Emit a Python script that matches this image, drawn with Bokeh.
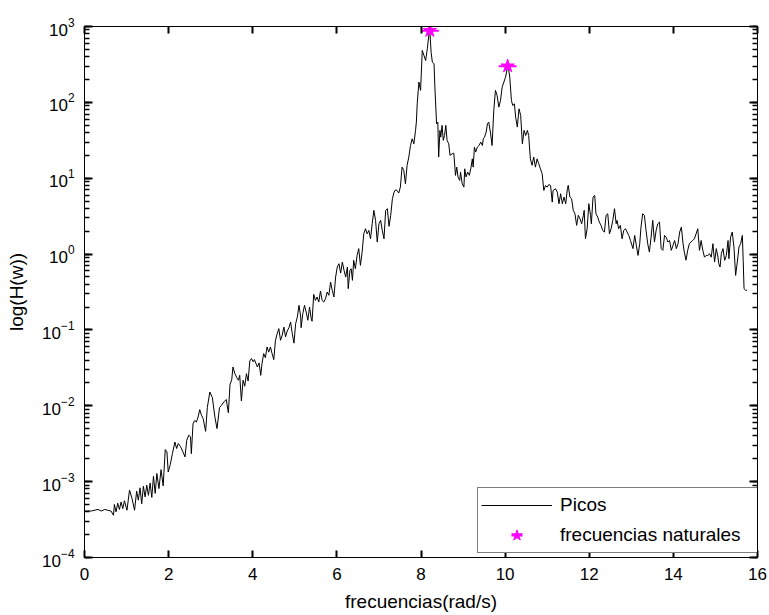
from bokeh.plotting import figure
from bokeh.models import (Range1d, FixedTicker, LogTicker, LinearAxis, LogAxis,
                          Legend, LegendItem, CustomJSTickFormatter)
from bokeh.embed import file_html
from bokeh.resources import INLINE

# ---- data ----
freq = [
    0.00, 0.16, 0.32, 0.40, 0.48, 0.55, 0.63, 0.69, 0.71, 0.75, 0.79, 0.83, 0.87, 0.91, 0.95,
    1.01, 1.07, 1.13, 1.19, 1.24, 1.28, 1.32, 1.36, 1.40, 1.44, 1.48, 1.52, 1.56, 1.60, 1.64,
    1.68, 1.72, 1.77, 1.82, 1.87, 1.92, 1.96, 1.99, 2.04, 2.09, 2.15, 2.19, 2.23, 2.28, 2.34,
    2.39, 2.43, 2.48, 2.52, 2.54, 2.58, 2.62, 2.66, 2.70, 2.74, 2.78, 2.82, 2.88, 2.92, 2.98,
    3.04, 3.10, 3.15, 3.21, 3.26, 3.31, 3.37, 3.42, 3.46, 3.50, 3.53, 3.57, 3.62, 3.66, 3.69,
    3.73, 3.77, 3.81, 3.85, 3.89, 3.93, 3.97, 4.01, 4.04,
    4.11, 4.15, 4.19, 4.22, 4.26, 4.30, 4.34, 4.38, 4.42, 4.46, 4.50, 4.54, 4.58, 4.62, 4.66,
    4.70, 4.74, 4.78, 4.82, 4.86, 4.90, 4.94, 4.98, 5.02, 5.06, 5.10, 5.14, 5.15, 5.19, 5.23,
    5.27, 5.31, 5.35, 5.39, 5.41, 5.45, 5.49, 5.53, 5.57, 5.61, 5.65, 5.69, 5.73, 5.77, 5.81,
    5.85, 5.89, 5.93, 5.97, 6.01, 6.05, 6.09, 6.13, 6.17, 6.21, 6.25, 6.27, 6.31, 6.34, 6.37,
    6.40, 6.44, 6.48, 6.52, 6.56, 6.60, 6.64, 6.68, 6.72, 6.76, 6.80, 6.84, 6.88, 6.92, 6.96,
    7.00, 7.04, 7.08, 7.12, 7.16, 7.20, 7.24, 7.28, 7.32, 7.36, 7.40, 7.43, 7.47, 7.51, 7.55,
    7.59, 7.63, 7.67, 7.71, 7.75, 7.79, 7.83, 7.87, 7.89,
    7.91, 7.95, 7.99, 8.03, 8.07, 8.11, 8.15, 8.19, 8.21, 8.24, 8.27, 8.31, 8.33, 8.37, 8.40,
    8.42, 8.45, 8.47, 8.50, 8.53, 8.56, 8.59, 8.62, 8.66, 8.69, 8.74, 8.78, 8.82, 8.85, 8.88,
    8.92, 8.94, 8.98, 9.02, 9.04, 9.07, 9.11, 9.15, 9.19, 9.22, 9.24, 9.27, 9.30, 9.34, 9.38,
    9.42, 9.46, 9.48, 9.51, 9.55, 9.58, 9.61, 9.65, 9.69, 9.73, 9.77, 9.81, 9.85, 9.89, 9.93,
    9.97, 10.01, 10.05, 10.07, 10.11, 10.15, 10.18, 10.22, 10.25, 10.29, 10.33, 10.37, 10.41,
    10.45, 10.49, 10.53, 10.56, 10.60, 10.64, 10.68, 10.72, 10.76, 10.80, 10.84, 10.88, 10.92,
    10.96, 11.00, 11.04, 11.08, 11.12, 11.14, 11.20,
    11.24, 11.28, 11.32, 11.36, 11.40, 11.44, 11.48, 11.50, 11.54, 11.58, 11.62, 11.66, 11.70,
    11.74, 11.78, 11.82, 11.86, 11.88, 11.91, 11.95, 11.99, 12.03, 12.05, 12.09, 12.13, 12.16,
    12.20, 12.24, 12.28, 12.32, 12.36, 12.40, 12.44, 12.48, 12.52, 12.56, 12.60, 12.64, 12.66,
    12.70, 12.74, 12.78, 12.82, 12.86, 12.90, 12.94, 12.98, 13.04, 13.08, 13.12, 13.16, 13.20,
    13.23, 13.27, 13.31, 13.35, 13.39, 13.43, 13.47, 13.51, 13.55, 13.59, 13.63, 13.67, 13.71,
    13.75, 13.79, 13.83, 13.87, 13.91, 13.95, 13.99, 14.03, 14.07, 14.11, 14.15, 14.19, 14.23,
    14.26, 14.30, 14.34, 14.38, 14.42, 14.46, 14.50, 14.54, 14.58, 14.62, 14.66, 14.70, 14.74,
    14.78, 14.82, 14.86, 14.90, 14.94, 14.98, 15.02, 15.06, 15.08, 15.11, 15.14, 15.18, 15.22,
    15.26, 15.30, 15.32, 15.36, 15.40, 15.44, 15.48, 15.52, 15.56, 15.60, 15.64, 15.66, 15.68,
    15.72, 15.75,
]

h_mag = [
    4.1e-4, 4.1e-4, 4.3e-4, 4.1e-4, 4.3e-4, 4.2e-4, 4.1e-4, 3.6e-4, 5.0e-4, 4.0e-4, 5.2e-4,
    4.3e-4, 5.4e-4, 4.4e-4, 5.6e-4,
    4.2e-4, 7.7e-4, 6.0e-4, 4.2e-4, 7.5e-4, 5.7e-4, 8.3e-4, 5.1e-4, 8.7e-4, 6.3e-4, 9.0e-4,
    6.6e-4, 9.6e-4, 6.2e-4, 1.18e-3,
    7.0e-4, 1.28e-3, 8.1e-4, 1.44e-3, 8.8e-4, 2.65e-3, 2.47e-3, 1.34e-3, 1.69e-3, 2.34e-3,
    3.33e-3, 2.73e-3, 3.18e-3, 2.92e-3, 2.47e-3,
    2.12e-3, 3.5e-3, 4.1e-3, 3.9e-3, 2.34e-3, 5.8e-3, 6.4e-3, 6.1e-3, 7.1e-3, 8.9e-3, 7.5e-3,
    6.8e-3, 4.6e-3, 9.5e-3, 1.52e-2,
    1.28e-2, 7.1e-3, 5.0e-3, 9.5e-3, 1.02e-2, 1.12e-2, 1.21e-2, 8.1e-3, 1.92e-2, 2.2e-2,
    3.25e-2, 2.7e-2, 2.35e-2, 2.17e-2, 2.52e-2,
    1.16e-2, 2.17e-2, 1.81e-2, 2.65e-2, 2.12e-2, 3.9e-2, 4.2e-2, 3.8e-2, 4.06e-2,
    3.25e-2, 3.67e-2, 2.52e-2, 3.6e-2, 4.87e-2, 4.3e-2, 5.96e-2, 5.1e-2, 5.96e-2, 4.87e-2,
    4.06e-2, 7.3e-2, 8.9e-2, 0.104, 7.3e-2,
    8.5e-2, 0.109, 8.1e-2, 9.7e-2, 0.107, 0.127, 8.9e-2, 6.7e-2, 0.121, 0.148, 0.211, 0.148,
    0.107, 0.164, 0.211,
    0.172, 0.134, 0.200, 0.141, 0.130, 0.294, 0.245, 0.272, 0.233, 0.326, 0.245, 0.233, 0.258,
    0.316, 0.286,
    0.428, 0.333, 0.272, 0.498, 0.675, 0.746, 0.562, 0.785, 0.610, 0.498, 0.675, 0.350, 0.610,
    0.641, 0.450,
    0.826, 0.641, 0.961, 1.18, 0.710, 1.06, 1.85, 2.16, 1.85, 2.05, 1.59, 2.51, 3.77, 2.78, 1.44,
    2.51, 2.78, 2.05, 1.59, 3.77, 3.96, 2.32, 3.24, 5.36, 6.56, 7.05, 6.90, 6.37, 7.64, 14.0,
    12.7, 8.45, 14.8, 19.0, 27.0, 33.1, 28.4, 42.7, 55.0,
    95.7, 185.0, 144.0, 483.0, 415.0, 356.0, 508.0, 800.0, 885.0, 459.0, 339.0, 322.0, 159.0,
    52.2, 55.0,
    19.0, 42.7, 34.8, 49.7, 31.5, 36.6, 49.7, 31.5, 28.4, 20.0, 21.0, 21.4, 10.9, 14.0, 10.4,
    9.35, 12.0, 8.45, 7.64, 13.3, 10.4, 12.0, 10.9, 14.0, 18.0, 14.0, 25.7, 22.1, 25.7, 27.0,
    29.9, 27.0, 33.1, 34.8, 40.6, 52.2, 55.0, 40.6, 27.0, 78.2, 144.0, 123.0, 86.5, 106.0, 159.0,
    185.0, 215.0, 277.0, 306.0, 215.0, 106.0, 91.0, 95.7, 63.8, 47.2, 82.2, 67.1, 28.4,
    42.7, 36.6, 42.7, 36.6, 18.0, 14.8, 19.0, 14.0, 18.0, 15.5, 13.3, 11.5, 6.9,
    8.0, 7.64, 8.28, 8.0, 4.84, 6.9, 7.26,
    6.56, 4.61, 6.24, 4.61, 5.64, 4.61, 7.26, 8.04, 5.64, 5.36, 3.77, 3.40, 2.39,
    3.24, 2.92, 2.51, 3.24, 3.77, 1.59, 2.16, 4.61, 3.24, 2.51, 5.64, 5.93, 3.40,
    3.08, 2.64, 2.39, 2.05, 1.95, 3.24, 3.40, 1.85, 2.16, 2.78, 3.96, 2.51, 2.78,
    2.16, 2.39, 1.59, 2.05, 2.16, 1.95, 1.76, 1.51, 1.18, 1.76, 1.30, 0.96, 1.37,
    2.27, 3.40, 3.24, 2.05, 1.37, 1.06, 1.67, 2.78, 1.44, 2.05, 2.51, 2.64, 1.18,
    1.12, 1.76, 1.67, 1.44, 1.51, 1.12, 1.30, 1.51, 1.18, 1.37, 1.95, 2.27, 1.37,
    1.06, 0.83, 1.12, 1.37, 1.44, 1.51, 1.59, 1.85, 2.16, 1.12, 1.51, 1.12, 0.91,
    0.96, 0.96, 1.01, 0.91, 1.37, 0.785, 1.18, 0.91, 0.746, 0.675, 1.01, 1.18, 0.826,
    0.96, 1.51, 0.869, 1.67, 1.95, 1.24, 0.524, 0.785, 1.24, 1.37, 1.76, 0.826, 0.35,
    0.333, 0.333,
]

peak_freq = [8.21, 10.06]
peak_mag = [880.0, 300.0]

x_ticks = [0, 2, 4, 6, 8, 10, 12, 14, 16]

FONT = "Liberation Sans"

p = figure(width=769, height=615,
           x_range=Range1d(0, 16), y_range=Range1d(1e-4, 1e3),
           y_axis_type="log", output_backend="svg", toolbar_location=None,
           min_border_left=84, min_border_right=12, min_border_top=26,
           min_border_bottom=58)
p.background_fill_color = "white"
p.border_fill_color = "white"
p.outline_line_color = "black"
p.outline_line_width = 1
p.xgrid.visible = False
p.ygrid.visible = False


def style_axis(ax, major_len, minor_len):
    # MATLAB-style: ticks point into the plot area
    ax.major_tick_in = major_len
    ax.major_tick_out = 0
    ax.minor_tick_in = minor_len
    ax.minor_tick_out = 0
    ax.axis_line_color = "black"
    ax.major_tick_line_color = "black"
    ax.minor_tick_line_color = "black"
    ax.major_tick_line_width = 2
    ax.minor_tick_line_width = 1.5
    ax.major_label_text_font = FONT
    ax.major_label_text_font_size = "17px"
    ax.major_label_text_color = "black"
    ax.axis_label_text_font = FONT
    ax.axis_label_text_font_size = "19px"
    ax.axis_label_text_font_style = "normal"
    ax.axis_label_text_color = "black"


xb = p.below[0]
xb.ticker = FixedTicker(ticks=x_ticks, minor_ticks=[])
style_axis(xb, 7, 0)
xb.major_label_standoff = 10
xb.axis_label = "frecuencias(rad/s)"
xb.axis_label_standoff = 8

yl = p.left[0]
yl.ticker = LogTicker(num_minor_ticks=10)
style_axis(yl, 8, 5)
yl.major_label_standoff = 10
yl.axis_label = "log(H(w))"
yl.axis_label_standoff = 12

xt = LinearAxis(ticker=FixedTicker(ticks=x_ticks, minor_ticks=[]),
                formatter=CustomJSTickFormatter(code="return ''"))
style_axis(xt, 7, 0)
xt.major_label_text_font_size = "0px"
xt.major_label_standoff = 0
p.add_layout(xt, "above")

yr = LogAxis(ticker=LogTicker(num_minor_ticks=10),
             formatter=CustomJSTickFormatter(code="return ''"))
style_axis(yr, 8, 5)
yr.major_label_text_font_size = "0px"
yr.major_label_standoff = 0
p.add_layout(yr, "right")

line_r = p.line(freq, h_mag, line_color="black", line_width=1)
star_r = p.scatter(peak_freq, peak_mag, marker="star", size=14,
                   fill_color="#ff00ff", line_color="#ff00ff")
dash_r = p.scatter(peak_freq, peak_mag, marker="dash", size=18,
                   line_color="#ff00ff", line_width=2)

legend = Legend(items=[LegendItem(label="Picos", renderers=[line_r]),
                       LegendItem(label="frecuencias naturales", renderers=[star_r, dash_r])],
                location=(393, 4), padding=3, spacing=2,
                glyph_width=71, glyph_height=28, label_height=28,
                label_width=195, label_standoff=8, margin=0,
                border_line_color="black", border_line_width=1,
                background_fill_color="white", background_fill_alpha=1.0,
                label_text_font=FONT, label_text_font_size="19px",
                label_text_color="black")
p.add_layout(legend)

open("out.html", "w").write(file_html(p, INLINE))
